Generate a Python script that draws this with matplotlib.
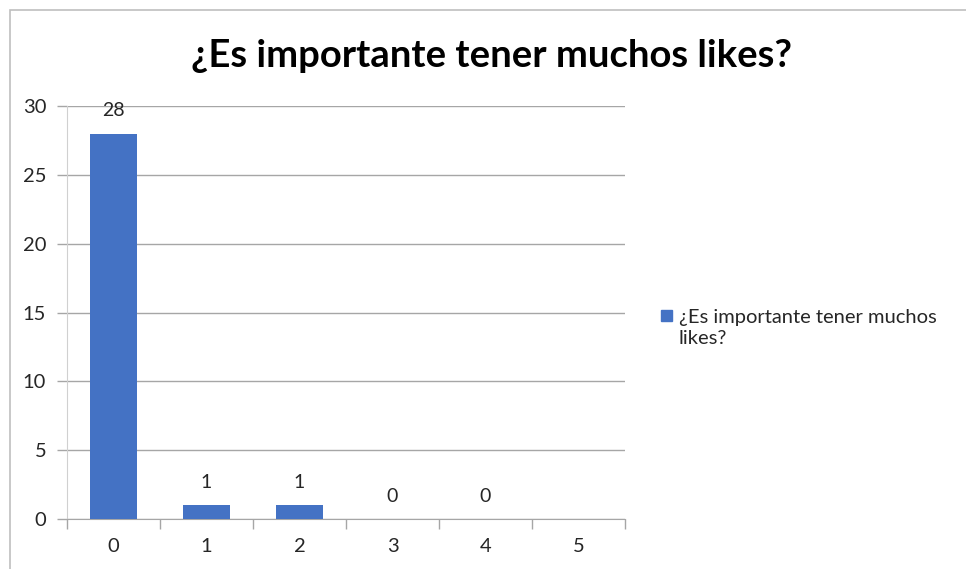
import matplotlib.pyplot as plt
from matplotlib.patches import Rectangle

# ------------------------------------------------------------------ data
categories = ["0", "1", "2", "3", "4", "5"]
values = [28, 1, 1, 0, 0, None]  # last category has no value / no label
series_name = "¿Es importante tener muchos likes?"
title = "¿Es importante tener muchos likes?"
y_ticks = [0, 5, 10, 15, 20, 25, 30]

plt.rcParams['font.family'] = ['Lato', 'DejaVu Sans']

fig = plt.figure(figsize=(9.66, 5.69), dpi=100)
ax = fig.add_axes([67 / 966, 50 / 569, 558 / 966, 413 / 569])

bar_color = "#4472C4"
grid_color = "#A6A6A6"
text_color = "#262626"
x = list(range(len(categories)))
heights = [v if v is not None else 0 for v in values]
ax.bar(x, heights, width=0.5, color=bar_color, zorder=3, label=series_name)

# data labels, fixed distance above bar top
for xi, v in zip(x, values):
    if v is None:
        continue
    ax.annotate(str(v), (xi, v), xytext=(0, 16.5), textcoords="offset points",
                ha="center", va="center", fontsize=14, color=text_color)

ax.set_xlim(-0.5, len(categories) - 0.5)
ax.set_ylim(0, 30)
ax.set_yticks(y_ticks)
ax.set_xticks(x)
ax.set_xticklabels(categories)
ax.tick_params(axis="x", length=0, labelsize=14.5, pad=14, colors=text_color)
ax.tick_params(axis="y", length=7, width=1, color=grid_color, labelsize=14.5, pad=8, labelcolor=text_color)
# tick marks between categories on x axis
ax.set_xticks([i - 0.5 for i in range(len(categories) + 1)], minor=True)
ax.tick_params(axis="x", which="minor", length=7, width=1, color=grid_color, direction="out")

ax.yaxis.grid(True, color=grid_color, linewidth=1, zorder=0)
ax.set_axisbelow(True)
for side in ["top", "right"]:
    ax.spines[side].set_visible(False)
ax.spines["left"].set_color("#D0D0D0")
ax.spines["bottom"].set_color(grid_color)

fig.text(492 / 966, 1 - 56 / 569, title, ha="center", va="center",
         fontsize=27.5, fontweight="bold", color="#000000")

# legend
fig.patches.append(Rectangle((661 / 966, 1 - 321 / 569), 11 / 966, 11 / 569,
                             transform=fig.transFigure, color=bar_color))
fig.text(679 / 966, 1 - 328 / 569, "¿Es importante tener muchos\nlikes?",
         ha="left", va="center", fontsize=14.5, color=text_color, linespacing=1.3)

# chart border
fig.patches.append(Rectangle((10 / 966, -0.1), 1.2, 1.1 - 10 / 569,
                             transform=fig.transFigure, fill=False,
                             edgecolor="#BFBFBF", linewidth=1.2))

fig.savefig("out.png", dpi=100)
